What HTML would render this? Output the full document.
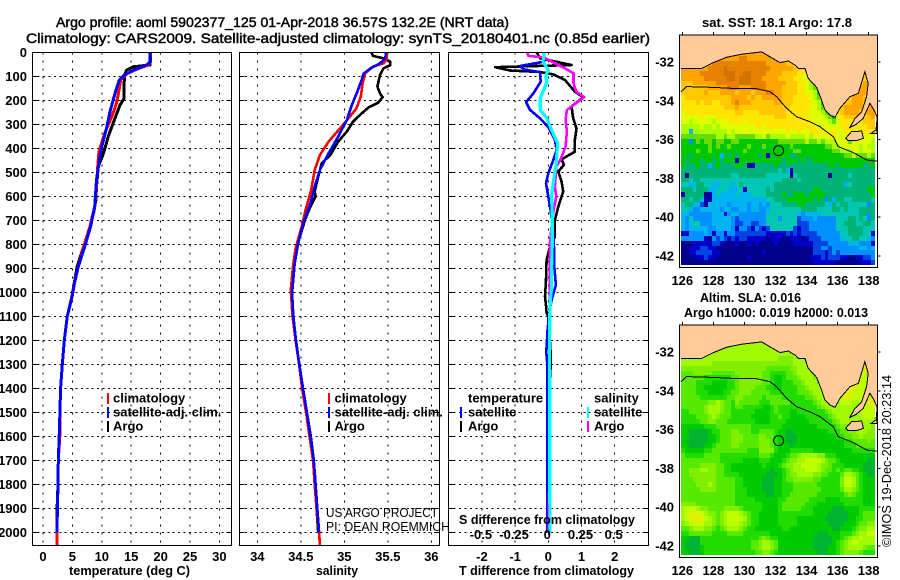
<!DOCTYPE html>
<html lang="en">
<head>
<meta charset="utf-8">
<title>Argo profile 5902377_125</title>
<style>
html,body{margin:0;padding:0;background:#fff;width:900px;height:580px;overflow:hidden}
svg{display:block;font-family:"Liberation Sans",sans-serif}
text{fill:#000}
.b{font-weight:bold;font-size:13px}
.t{font-size:14px;font-weight:normal;stroke:#000;stroke-width:0.45px}
</style>
</head>
<body>
<svg id="fig" xmlns="http://www.w3.org/2000/svg" width="900" height="580" viewBox="0 0 900 580">
<text class="t" x="56" y="27" textLength="453" lengthAdjust="spacingAndGlyphs">Argo profile: aoml 5902377_125 01-Apr-2018 36.57S 132.2E (NRT data)</text>
<text class="t" x="26" y="43" textLength="624" lengthAdjust="spacingAndGlyphs">Climatology: CARS2009. Satellite-adjusted climatology: synTS_20180401.nc (0.85d earlier)</text>
<text class="b" x="69" y="575" textLength="121" lengthAdjust="spacingAndGlyphs">temperature (deg C)</text>
<text class="b" x="316" y="575" textLength="42" lengthAdjust="spacingAndGlyphs">salinity</text>
<text class="b" x="459" y="575" textLength="175" lengthAdjust="spacingAndGlyphs">T difference from climatology</text>
<text class="b" x="702" y="27" textLength="150" lengthAdjust="spacingAndGlyphs">sat. SST: 18.1 Argo: 17.8</text>
<text class="b" x="700" y="302" textLength="101" lengthAdjust="spacingAndGlyphs">Altim. SLA: 0.016</text>
<text class="b" x="684" y="317" textLength="184" lengthAdjust="spacingAndGlyphs">Argo h1000: 0.019 h2000: 0.013</text>
<text x="0" y="0" font-size="13" transform="translate(891,547) rotate(-90)" textLength="172" lengthAdjust="spacingAndGlyphs">©IMOS 19-Dec-2018 20:23:14</text>
<g id="plots"></g>
<text class="b" x="459" y="524" textLength="176" lengthAdjust="spacingAndGlyphs">S difference from climatology</text>
<text x="326" y="517" font-size="13" textLength="112" lengthAdjust="spacingAndGlyphs">US ARGO PROJECT</text>
<text x="326" y="531" font-size="13" textLength="124" lengthAdjust="spacingAndGlyphs">PI: DEAN ROEMMICH</text>
</svg>
<script>
/* ---------- axis tick labels ---------- */
const depthTicks = [0,100,200,300,400,500,600,700,800,900,1000,1100,1200,1300,1400,1500,1600,1700,1800,1900,2000];
const tempTicks = [0,5,10,15,20,25,30];
const salTicks = [34,34.5,35,35.5,36];
const diffTTicks = [-2,-1,0,1,2];
const diffSTicks = [-0.5,-0.25,0,0.25,0.5];
const lonTicks = [126,128,130,132,134,136,138];
const latTicks = [-32,-34,-36,-38,-40,-42];

/* ---------- temperature profiles ---------- */
const tempArgoDepth = [0,46,53,60,74,94,130,192,220,290,350,420,476,560,615,670,726,810,893,962,1018,1100,1200,1300,1400,1500,1600,1700,1800,1900,2000];
const tempArgoValue = [18.2,18.2,18.2,15.4,14.2,13.9,13.8,13.8,13.1,12.0,11.1,10.3,9.4,9.1,9.0,8.6,8.0,6.9,5.8,5.3,4.9,4.14,3.63,3.28,3.0,2.88,2.75,2.6,2.55,2.4,2.38];
const tempClimDepth = [0,39,53,71,90,115,150,212,268,337,414,476,560,643,733,803,893,962,1018,1100,1200,1300,1400,1500,1600,1700,1800,1900,2000,2054];
const tempClimValue = [18.3,18.3,17.9,15.9,14.2,13.2,13.0,12.5,11.7,10.5,9.5,9.3,9.1,8.8,7.9,7.0,6.0,5.3,4.9,4.14,3.63,3.28,3.0,2.88,2.85,2.6,2.55,2.45,2.38,2.38];
const tempSatDepth = [0,39,53,74,94,115,150,192,247,317,393,462,532,643,726,810,893,962,1018,1100,1200,1300,1400,1500,1600,1700,1800,1900,2000];
const tempSatValue = [18.2,18.3,17.6,15.4,13.9,13.0,12.5,12.0,11.4,10.8,10.0,9.5,9.1,8.8,8.1,7.1,6.0,5.35,4.95,4.14,3.63,3.28,3.0,2.88,2.75,2.6,2.55,2.45,2.38];

/* ---------- salinity profiles ---------- */
const salArgoDepth = [0,15,25,39,53,67,94,143,171,187,210,229,261,289,330,372,428,462,518,580,601,643,698,768,851,920,1004,1100,1200,1300,1400,1500,1600,1700,1800,1900,2000];
const salArgoValue = [35.31,35.33,35.45,35.53,35.53,35.45,35.41,35.38,35.41,35.44,35.39,35.28,35.18,35.10,35.03,34.93,34.84,34.74,34.70,34.66,34.67,34.61,34.55,34.49,34.43,34.41,34.40,34.414,34.445,34.483,34.525,34.57,34.615,34.65,34.67,34.68,34.70];
const salClimDepth = [0,25,46,60,87,129,185,233,275,317,372,428,490,574,650,726,817,893,990,1100,1200,1300,1400,1500,1600,1700,1800,1900,2000,2054];
const salClimValue = [35.49,35.49,35.45,35.33,35.24,35.21,35.19,35.14,35.05,34.95,34.82,34.72,34.66,34.62,34.56,34.51,34.44,34.41,34.385,34.405,34.44,34.48,34.515,34.56,34.60,34.64,34.66,34.68,34.71,34.72];
const salSatDepth = [0,25,46,67,90,115,164,226,282,351,421,490,560,629,712,796,879,1004,1100,1200,1300,1400,1500,1600,1700,1800,1900,2000];
const salSatValue = [35.48,35.47,35.41,35.30,35.22,35.20,35.15,35.08,35.03,34.93,34.82,34.72,34.66,34.61,34.53,34.47,34.43,34.40,34.414,34.445,34.483,34.525,34.57,34.61,34.65,34.67,34.69,34.71];

/* ---------- difference profiles ---------- */
const diffTArgoDepth = [0,25,53,62,76,82,92,115,164,187,226,275,317,365,414,446,469,497,539,580,643,699,768,810,865,949,1018,1067,1086,1100,1250,1400,1500,2000];
const diffTArgoValue = [-0.35,-0.25,0.70,-1.6,-1.15,-0.25,0.15,0.5,0.8,1.05,0.7,0.75,0.85,0.8,0.8,0.4,0.47,0.3,0.4,0.45,0.3,0.2,0.2,0.05,-0.05,-0.07,-0.1,-0.06,-0.05,0,0.07,0.06,0.02,0];
const diffTSatDepth = [0,39,57,71,83,122,171,208,240,275,312,365,407,449,504,546,601,657,726,796,893,969,1032,1067,1100,1154,1250,1300,2000];
const diffTSatValue = [-0.13,-0.13,-0.85,-0.75,-0.25,-0.23,-0.45,-0.67,-0.55,-0.25,0,0.2,0.25,0.15,0,-0.07,0,0.07,0.13,0.17,0.18,0.23,0.10,0.05,0.02,-0.02,-0.06,-0.03,-0.03];
const diffSArgoDepth = [0,15,21,62,87,129,164,187,240,282,330,393,449,476,560,601,657,726,810,893,1018,1067,1300,2000];
const diffSArgoValue = [-0.16,-0.15,-0.04,0.11,0.19,0.19,0.21,0.27,0.14,0.13,0.14,0.13,0.09,0.06,0.05,0.06,0.04,0.025,0.01,0.01,0.01,0.01,0.012,0.004];
const diffSSatDepth = [0,39,74,101,122,192,240,275,324,379,462,532,601,685,796,893,976,1067,1200,2000];
const diffSSatValue = [-0.03,-0.04,0,-0.02,-0.01,-0.06,-0.06,-0.01,0.025,0.07,0.06,0.04,0.025,0.03,0.03,0.025,0.025,0.012,0.01,0.012];

/* ---------- map geography (degrees) ---------- */
const coastLon = [125.81,125.91,127.24,128.0,128.85,129.82,131.11,131.64,132.29,132.82,133.32,133.47,133.90,134.11,134.65,134.97,135.18,135.51,135.83,136.15,136.79,137.33,137.76,137.97,137.87,137.55,137.12,136.79,137.22,137.65,138.08,138.34,138.55,138.55,125.81];
const coastLat = [-32.33,-32.33,-32.33,-32.03,-31.76,-31.60,-31.48,-31.73,-32.03,-31.95,-32.19,-32.33,-32.33,-32.84,-33.31,-33.96,-34.47,-34.73,-34.85,-34.39,-33.79,-33.62,-32.50,-33.10,-33.79,-34.56,-34.90,-35.37,-35.20,-34.90,-34.13,-34.47,-34.85,-30.61,-30.61];
const fleurieuLon = [138.55,138.47,138.15,138.55];
const fleurieuLat = [-34.85,-35.50,-35.68,-35.68];
const kangarooLon = [136.52,136.90,137.55,137.66,137.23,136.69];
const kangarooLat = [-35.93,-35.59,-35.56,-35.93,-36.05,-36.05];
const shelfLon = [125.91,126.28,128.0,129.28,130.68,131.64,132.07,132.72,133.36,134.22,134.86,135.72,136.04,137.01,137.87,138.55];
const shelfLat = [-33.53,-33.27,-33.31,-33.36,-33.36,-33.53,-33.79,-34.39,-34.82,-35.08,-35.33,-35.85,-36.36,-36.67,-37.05,-37.12];
const floatLon = 132.2;
const floatLat = -36.57;

/* ---------- SST grid: one character per 0.25 degree cell, north to south ---------- */
const sstRows = [
"dddddddddd dddddddddd dddddddddd dddddddddd dddddddddd",
"dddddddddd dddddeeddd dddddddddd dddddddddd dddddddddd",
"ddddddddee eeeeeeeeee eedddddccc cccccccccc cccccccccc",
"dddddddeee efeeeeeeee eeeddddddc cbbbbbbbbb bbbbbbbbbb",
"dddddeeeee efffeeffee eeddddcccc bba8877bbb cccccccbbb",
"ddddddeeee eeffefffee eddddccccb baa887bbbb cccccccccc",
"cccdddddde eeeeefffee eedddddccc bba9877777 bbbbbbcddb",
"cccccccddd ddeeedddee eeddddcccc bba9877777 bbbbbcdddb",
"ccccccdccc ddddcdddcd ddeeddcccc bbaa977777 bbbbcdddcb",
"bccccccccc cccddddcdc cdddddcccb bbba987777 bbbcdddccb",
"bbbbcbccbb cccdedddcc ccccddcccb bbbba97777 bbccdddcdb",
"bbbbbbbbbb bcccdccccc ccccccccbb bbbaa98777 bcdddddcdd",
"abbbbbbbbb bbbbccbbbb cccccccbbb bbbaaa9877 bcddddccdd",
"aaaaabaaab bbbbbbbbbb bbbbcccbbb bbbaaaa987 abccccbccd",
"aa9aaaaa9a aabbbbabbb bbbbbbbbbb bbbbaaaa98 abbbbbbccc",
"99999a99a9 aaaaaaaaab babbbbbbbb bbbbbaaaaa abbbbbbbcc",
"9949999999 99a9aaaaaa aaaaaaabaa baabbbbaab aabbaabbbb",
"8888888889 9899888889 9a89999a99 99a9aaaabb aaaaaabaaa",
"7737878878 8778877777 7777788888 8898898999 aaa8aaaaa9",
"7777777878 7787777877 7877777787 7777777889 9aaaaa9a99",
"7777877877 7777778777 7777777778 8777777778 8999aa9aa9",
"7767777777 4767677777 6717777766 7777777777 7788988898",
"7677767767 6777177777 7777776777 6766777777 7777777777",
"7666766467 6666776016 6666766666 6666666677 6777777667",
"6666666666 6666666666 6666656416 6666666666 6666666666",
"6066666666 6665566666 6655555505 6666666606 6665666666",
"6656655555 5555555555 5555556666 5666666666 6666666666",
"5544665544 5554565555 5555666666 6666666666 6645666666",
"6665666445 5544451555 5565666666 6666776666 6666666677",
"1666660145 4444544455 5566667667 7767777666 6666666667",
"6656641044 4444444444 4455666777 7777676364 6655666665",
"5664420444 4434444344 3435556666 7766666546 5665555536",
"5543344444 3443344344 3345555555 5666655556 6565556666",
"4433333344 4134433333 3355555555 4344445555 5555556636",
"4353333344 4443233333 3355535555 2333433333 5556656536",
"4345533344 4443223322 3355555555 2223333333 5566655665",
"4344444334 4443133213 2125555552 1223333333 5556666555",
"1133334313 3133222222 2211111212 1222233333 3556666551",
"3333331032 3212122111 1101110011 1012223333 3455665543",
"0001111122 1000100101 0000100001 1111222233 3334443331",
"0011122110 0000000000 0000000000 0000223323 3333334434",
"0011222211 0000000000 0100000000 0000222123 2333333333",
"0000112110 0000000100 0000000000 0001112122 2110011223",
"0000000000 0000000000 0000000000 0000111111 0000001112"
];

/* ---------- sea level anomaly grid ---------- */
const slaRows = [
"5555555555 5555555555 5555555555 5555555555 5555555555",
"5555555555 5555555555 5555555555 5555555555 5555555555",
"5555555555 5555555555 5555555555 5555555555 5555555555",
"5555555555 5555555555 5555544445 5555555555 6666666666",
"5555555544 4444444444 4444444445 5555544444 7777777777",
"4444444444 4444444444 4433333344 5555433333 7777777777",
"3334444433 3333444444 4332222334 5555432222 7777777666",
"3333332222 2223344444 4332112333 4555443222 7777776666",
"3333222211 1122344444 4332112223 3455543222 6777776666",
"3333221111 1122344443 3322112222 3345554322 6677766667",
"3333222111 1223344433 3332222222 3334555432 6677666677",
"3333322222 2233443333 3233332222 2233455543 6677666677",
"3333333445 4332433333 2223333322 2222345554 5666556677",
"3333334555 4332332222 2112322222 2222234555 5555556667",
"2233334555 4332222221 1112322211 2222222345 5555556666",
"2222333454 3332222211 1112232211 1122222234 5555555666",
"2222233443 3322222221 1112222111 1112222223 4555555555",
"1111112223 3333333322 2222221111 1111122222 3445555554",
"1100000122 3334433322 3333211001 1111111122 2334455544",
"1100000112 3334443333 4433211000 1111111111 2233445444",
"1000000112 3334443333 4443211000 1111111111 1122333343",
"1100001123 3334433333 4443211101 1111111111 1122233333",
"2111112233 3333333222 4444211122 2222111111 1111222222",
"3222223333 2222222222 3332111233 4555544222 1111111111",
"3333333333 2222221111 2221112344 5566665433 2111111100",
"3333344443 3221111111 1211123445 5666654432 2211111000",
"3344455443 3221111111 1110112345 5566654332 3233221000",
"3344444443 3222211111 1100012344 5555443322 2355432100",
"3334444443 3333221111 1000112334 4444332222 2466532111",
"3333444543 3333221111 1000112223 3333322222 2466532111",
"3333344443 3333222111 1000112223 3333332222 2355432111",
"3333333333 3333222111 1100112233 3333322222 2234322111",
"3333333333 3333222221 1111122333 3332222111 1222222111",
"4444333333 3333222222 2111123333 3322211111 1122222111",
"5666544333 3444432222 2111123333 3222111110 0011112222",
"5677765443 4566654322 1111122222 2222111100 0001112333",
"5677776543 4566665322 1111122222 1111111000 0001122333",
"4566765543 4566654322 1111122222 1111111100 0011123344",
"3345554432 3455543221 1111112211 1111111110 0111234455",
"2233333322 2233332222 2221111111 1111100011 1222345566",
"1100022222 2222222222 3432211111 1111000001 1234556555",
"1000022222 2222222233 4554311111 1111000001 2345665555",
"1000012222 2222222233 4554311111 1111000011 2345555433",
"1100012222 2222222223 3443211111 1111100011 2344443222"
];

/* ---------- styling ---------- */
const sstColors = {"0":"#00008c","1":"#0000c8","2":"#0044e6","3":"#0090ff","4":"#00b4f0","5":"#00c8b4","6":"#00b478","7":"#00c800","8":"#66dd00","9":"#aaff00","a":"#ddff00","b":"#ffe600","c":"#ffc800","d":"#ffa500","e":"#e68200","f":"#d27300"};
const slaColors = {"0":"#00b430","1":"#00cc00","2":"#22dc00","3":"#55ea00","4":"#80f000","5":"#a0fa00","6":"#c0ff00","7":"#e0f000"};
const LAND = "#ffcc99";
const NS = "http://www.w3.org/2000/svg";
const root = document.getElementById("plots");

const PLOT_TOP = 52.3, PLOT_BOTTOM = 545.3;
function yDepth(d){ return 52.3 + d*0.24; }
function xTemp(t){ return 43 + t*5.88; }
function xSal(s){ return 257.3 + (s-34)*87; }
function xDiffT(t){ return 548.3 + t*33.2; }
function xDiffS(s){ return 548.3 + s*132.8; }
function xLon(l){ return 682.3 + (l-126)*15.53; }
function yLat(l, top){ return top + 27 + (-32-l)*19.4; }

function make(tag, attrs, parent){
  const el = document.createElementNS(NS, tag);
  for (const k in attrs) el.setAttribute(k, attrs[k]);
  (parent || root).appendChild(el);
  return el;
}
function label(str, x, y, anchor, name, parent){
  const el = make("text", {x:x, y:y, "text-anchor":anchor, "class":"b"}, parent);
  el.textContent = str;
  
  
  return el;
}
function drawProfile(xf, depths, values, color, width, name, parent){
  const pts = depths.map((d,i)=>xf(values[i]).toFixed(1)+","+yDepth(d).toFixed(1)).join(" ");
  const el = make("polyline", {points:pts, fill:"none", stroke:color, "stroke-width":width, "stroke-linejoin":"round", "shape-rendering":"crispEdges"}, parent);
  
  
}
function drawPanel(name, x0, x1, ticks, xf, tickText, showDepth){
  const g = make("g", {});
  
  
  depthTicks.forEach(function(d){
    if (d === 0) {
      if (showDepth) label("0", 27, yDepth(0)+4.5, "end", "depth-tick-label", g);
      return;
    }
    const gl = make("line", {x1:x0, x2:x1, y1:yDepth(d), y2:yDepth(d), stroke:"#000", "stroke-width":1, "stroke-dasharray":"2 3.4", "shape-rendering":"crispEdges"}, g);
    
    
    const tl = make("line", {x1:x0, x2:x0+5, y1:yDepth(d), y2:yDepth(d), stroke:"#000", "stroke-width":1, "shape-rendering":"crispEdges"}, g);
    
    
    const tr = make("line", {x1:x1-5, x2:x1, y1:yDepth(d), y2:yDepth(d), stroke:"#000", "stroke-width":1, "shape-rendering":"crispEdges"}, g);
    
    
    if (showDepth) label(String(d), 27, yDepth(d)+4.5, "end", "depth-tick-label", g);
  });
  ticks.forEach(function(t){
    const gl = make("line", {x1:xf(t), x2:xf(t), y1:PLOT_TOP, y2:PLOT_BOTTOM, stroke:"#000", "stroke-width":1, "stroke-dasharray":"2 6", "shape-rendering":"crispEdges"}, g);
    
    
    label(tickText(t), xf(t), 561, "middle", "x-tick-label", g);
  });
  return g;
}
function drawFrame(g, x0, x1, y0, y1, name){
  const r = make("rect", {x:x0, y:y0, width:x1-x0, height:y1-y0, fill:"none", stroke:"#000", "stroke-width":1, "shape-rendering":"crispEdges"}, g);
  
  
}
function legendEntry(g, mx, tx, y, color, str){
  const m = make("rect", {x:mx-1, y:y-5, width:2, height:11, fill:color, "shape-rendering":"crispEdges"}, g);
  
  
  label(str, tx, y+4.5, "start", "legend-entry", g);
}

/* temperature panel */
const p1 = drawPanel("temperature-panel", 32.3, 231.3, tempTicks, xTemp, String, true);
drawProfile(xTemp, tempArgoDepth, tempArgoValue, "#000", 3, "temperature-argo-line", p1);
drawProfile(xTemp, tempClimDepth, tempClimValue, "#ff0000", 3, "temperature-climatology-line", p1);
drawProfile(xTemp, tempSatDepth, tempSatValue, "#0000ff", 3, "temperature-satellite-line", p1);
drawFrame(p1, 32.3, 231.3, PLOT_TOP, PLOT_BOTTOM, "temperature-frame");
legendEntry(p1, 108, 113, 398, "#ff0000", "climatology");
legendEntry(p1, 108, 113, 412, "#0000ff", "satellite-adj. clim.");
legendEntry(p1, 108, 113, 426, "#000", "Argo");

/* salinity panel */
const p2 = drawPanel("salinity-panel", 239.7, 439.3, salTicks, xSal, String, false);
drawProfile(xSal, salArgoDepth, salArgoValue, "#000", 2.6, "salinity-argo-line", p2);
drawProfile(xSal, salClimDepth, salClimValue, "#ff0000", 2.6, "salinity-climatology-line", p2);
drawProfile(xSal, salSatDepth, salSatValue, "#0000ff", 2.6, "salinity-satellite-line", p2);
drawFrame(p2, 239.7, 439.3, PLOT_TOP, PLOT_BOTTOM, "salinity-frame");
legendEntry(p2, 329, 334.5, 398, "#ff0000", "climatology");
legendEntry(p2, 329, 334.5, 412, "#0000ff", "satellite-adj. clim.");
legendEntry(p2, 329, 334.5, 426, "#000", "Argo");

/* difference panel */
const p3 = drawPanel("difference-panel", 448.3, 648.7, diffTTicks, xDiffT, String, false);
drawProfile(xDiffT, diffTArgoDepth, diffTArgoValue, "#000", 2.6, "t-difference-argo-line", p3);
drawProfile(xDiffT, diffTSatDepth, diffTSatValue, "#0000ff", 2.6, "t-difference-satellite-line", p3);
drawProfile(xDiffS, diffSArgoDepth, diffSArgoValue, "#ff00ff", 2.6, "s-difference-argo-line", p3);
drawProfile(xDiffS, diffSSatDepth, diffSSatValue, "#00ffff", 3.2, "s-difference-satellite-line", p3);
drawFrame(p3, 448.3, 648.7, PLOT_TOP, PLOT_BOTTOM, "difference-frame");
diffSTicks.forEach(function(s){
  label(s === 0 ? "0" : String(s), xDiffS(s)-1, 539, "middle", "s-difference-tick-label", p3);
});
label("temperature", 468, 402.5, "start", "legend-heading-temperature", p3);
label("salinity", 594, 402.5, "start", "legend-heading-salinity", p3);
legendEntry(p3, 461, 468, 412, "#0000ff", "satellite");
legendEntry(p3, 461, 468, 426, "#000", "Argo");
legendEntry(p3, 588, 594, 412, "#00ffff", "satellite");
legendEntry(p3, 588, 594, 426, "#ff00ff", "Argo");

/* maps */
function polyPts(lons, lats, top){
  return lons.map((l,i)=>xLon(l).toFixed(1)+","+yLat(lats[i],top).toFixed(1)).join(" ");
}
function drawMap(name, rows, colors, top, clipId){
  const x0 = 679.3, x1 = 877.3, y0 = top, y1 = top + 232.3;
  const g = make("g", {});
  
  
  const defs = make("defs", {}, g);
  const cp = make("clipPath", {id:clipId}, defs);
  make("rect", {x:x0, y:y0, width:x1-x0, height:y1-y0}, cp);
  const inner = make("g", {"clip-path":"url(#"+clipId+")"}, g);
  const lon0 = 125.91, latTop = -31.46, step = 0.25;
  rows.forEach(function(rowText, r){
    const row = rowText.replace(/ /g, "");
    for (let c = 0; c < row.length; c++){
      const xa = Math.round(xLon(lon0 + c*step));
      const xb = Math.round(xLon(lon0 + (c+1)*step));
      const ya = Math.round(yLat(latTop - r*step, top));
      const yb = Math.round(yLat(latTop - (r+1)*step, top));
      const cell = make("rect", {x:xa, y:ya, width:xb-xa, height:yb-ya, fill:colors[row[c]], "shape-rendering":"crispEdges"}, inner);
      
      
    }
  });
  const land = make("polygon", {points:polyPts(coastLon, coastLat, top), fill:LAND, stroke:"none"}, inner);
  
  
  const coast = make("polyline", {points:polyPts(coastLon.slice(1,33), coastLat.slice(1,33), top), fill:"none", stroke:"#000", "stroke-width":1, "shape-rendering":"crispEdges"}, inner);
  
  
  const fl = make("polygon", {points:polyPts(fleurieuLon, fleurieuLat, top), fill:LAND, stroke:"#000", "stroke-width":1, "shape-rendering":"crispEdges"}, inner);
  
  
  const ki = make("polygon", {points:polyPts(kangarooLon, kangarooLat, top), fill:LAND, stroke:"#000", "stroke-width":1, "shape-rendering":"crispEdges"}, inner);
  
  
  const shelf = make("polyline", {points:polyPts(shelfLon, shelfLat, top), fill:"none", stroke:"#000", "stroke-width":1, "shape-rendering":"crispEdges"}, inner);
  
  
  const dot = make("circle", {cx:xLon(floatLon), cy:yLat(floatLat, top), r:5, fill:"none", stroke:"#000", "stroke-width":1}, inner);
  
  
  drawFrame(g, x0, x1, y0, y1, "map-frame");
  lonTicks.forEach(function(l){
    const t = make("line", {x1:xLon(l), x2:xLon(l), y1:y0-3, y2:y0, stroke:"#000", "stroke-width":1, "shape-rendering":"crispEdges"}, g);
    
    
    label(String(l), xLon(l), y0+250, "middle", "longitude-tick-label", g);
  });
  latTicks.forEach(function(l){
    const t = make("line", {x1:x1, x2:x1+3, y1:yLat(l,top), y2:yLat(l,top), stroke:"#000", "stroke-width":1, "shape-rendering":"crispEdges"}, g);
    
    
    label(String(l), 674, yLat(l,top)+4.5, "end", "latitude-tick-label", g);
  });
}
drawMap("sst-map", sstRows, sstColors, 35, "clip-sst");
drawMap("sla-map", slaRows, slaColors, 325, "clip-sla");
</script>
</body>
</html>
